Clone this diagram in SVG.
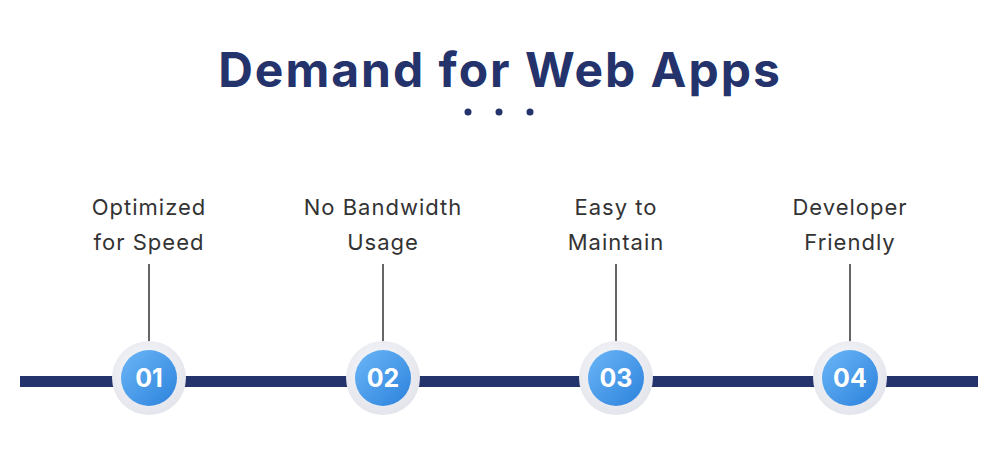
<svg xmlns="http://www.w3.org/2000/svg" width="1000" height="469" viewBox="0 0 1000 469">
<defs>
<linearGradient id="g" x1="0" y1="0" x2="1" y2="1"><stop offset="0" stop-color="#6cb6f7"/><stop offset="1" stop-color="#2b82dc"/></linearGradient>
<radialGradient id="o" cx="0.45" cy="0.4" r="0.6"><stop offset="0" stop-color="#fafbfd"/><stop offset="1" stop-color="#e3e5ec"/></radialGradient>
<style>
.t{font-family:Inter,"Open Sans",sans-serif;font-size:22px;fill:#333;text-anchor:middle;letter-spacing:1px}
.n{font-family:Inter,"Open Sans",sans-serif;font-size:25px;font-weight:700;fill:#fff;text-anchor:middle}
.v{stroke:#333;stroke-width:1.5}
</style>
</defs>
<rect width="1000" height="469" fill="#fff"/>
<text x="500" y="87" font-family="Inter,'Open Sans',sans-serif" font-size="48" font-weight="700" fill="#24336b" text-anchor="middle" letter-spacing="2">Demand for Web Apps</text>
<g fill="#24336b"><circle cx="468" cy="112" r="3.5"/><circle cx="499" cy="112" r="3.5"/><circle cx="530" cy="112" r="3.5"/></g>
<g id="connectors">
<rect x="20" y="376" width="958" height="11" fill="#24336b"/>
<line class="v" x1="149" y1="264" x2="149" y2="342"/>
<line class="v" x1="383" y1="264" x2="383" y2="342"/>
<line class="v" x1="616" y1="264" x2="616" y2="342"/>
<line class="v" x1="850" y1="264" x2="850" y2="342"/>
</g>
<g id="n1"><circle cx="149" cy="378" r="37" fill="url(#o)"/><circle cx="149" cy="378" r="28" fill="url(#g)"/><text class="n" x="149" y="387">01</text><text class="t" x="149" y="215">Optimized</text><text class="t" x="149" y="250">for Speed</text></g>
<g id="n2"><circle cx="383" cy="378" r="37" fill="url(#o)"/><circle cx="383" cy="378" r="28" fill="url(#g)"/><text class="n" x="383" y="387">02</text><text class="t" x="383" y="215">No Bandwidth</text><text class="t" x="383" y="250">Usage</text></g>
<g id="n3"><circle cx="616" cy="378" r="37" fill="url(#o)"/><circle cx="616" cy="378" r="28" fill="url(#g)"/><text class="n" x="616" y="387">03</text><text class="t" x="616" y="215">Easy to</text><text class="t" x="616" y="250">Maintain</text></g>
<g id="n4"><circle cx="850" cy="378" r="37" fill="url(#o)"/><circle cx="850" cy="378" r="28" fill="url(#g)"/><text class="n" x="850" y="387">04</text><text class="t" x="850" y="215">Developer</text><text class="t" x="850" y="250">Friendly</text></g>
</svg>
